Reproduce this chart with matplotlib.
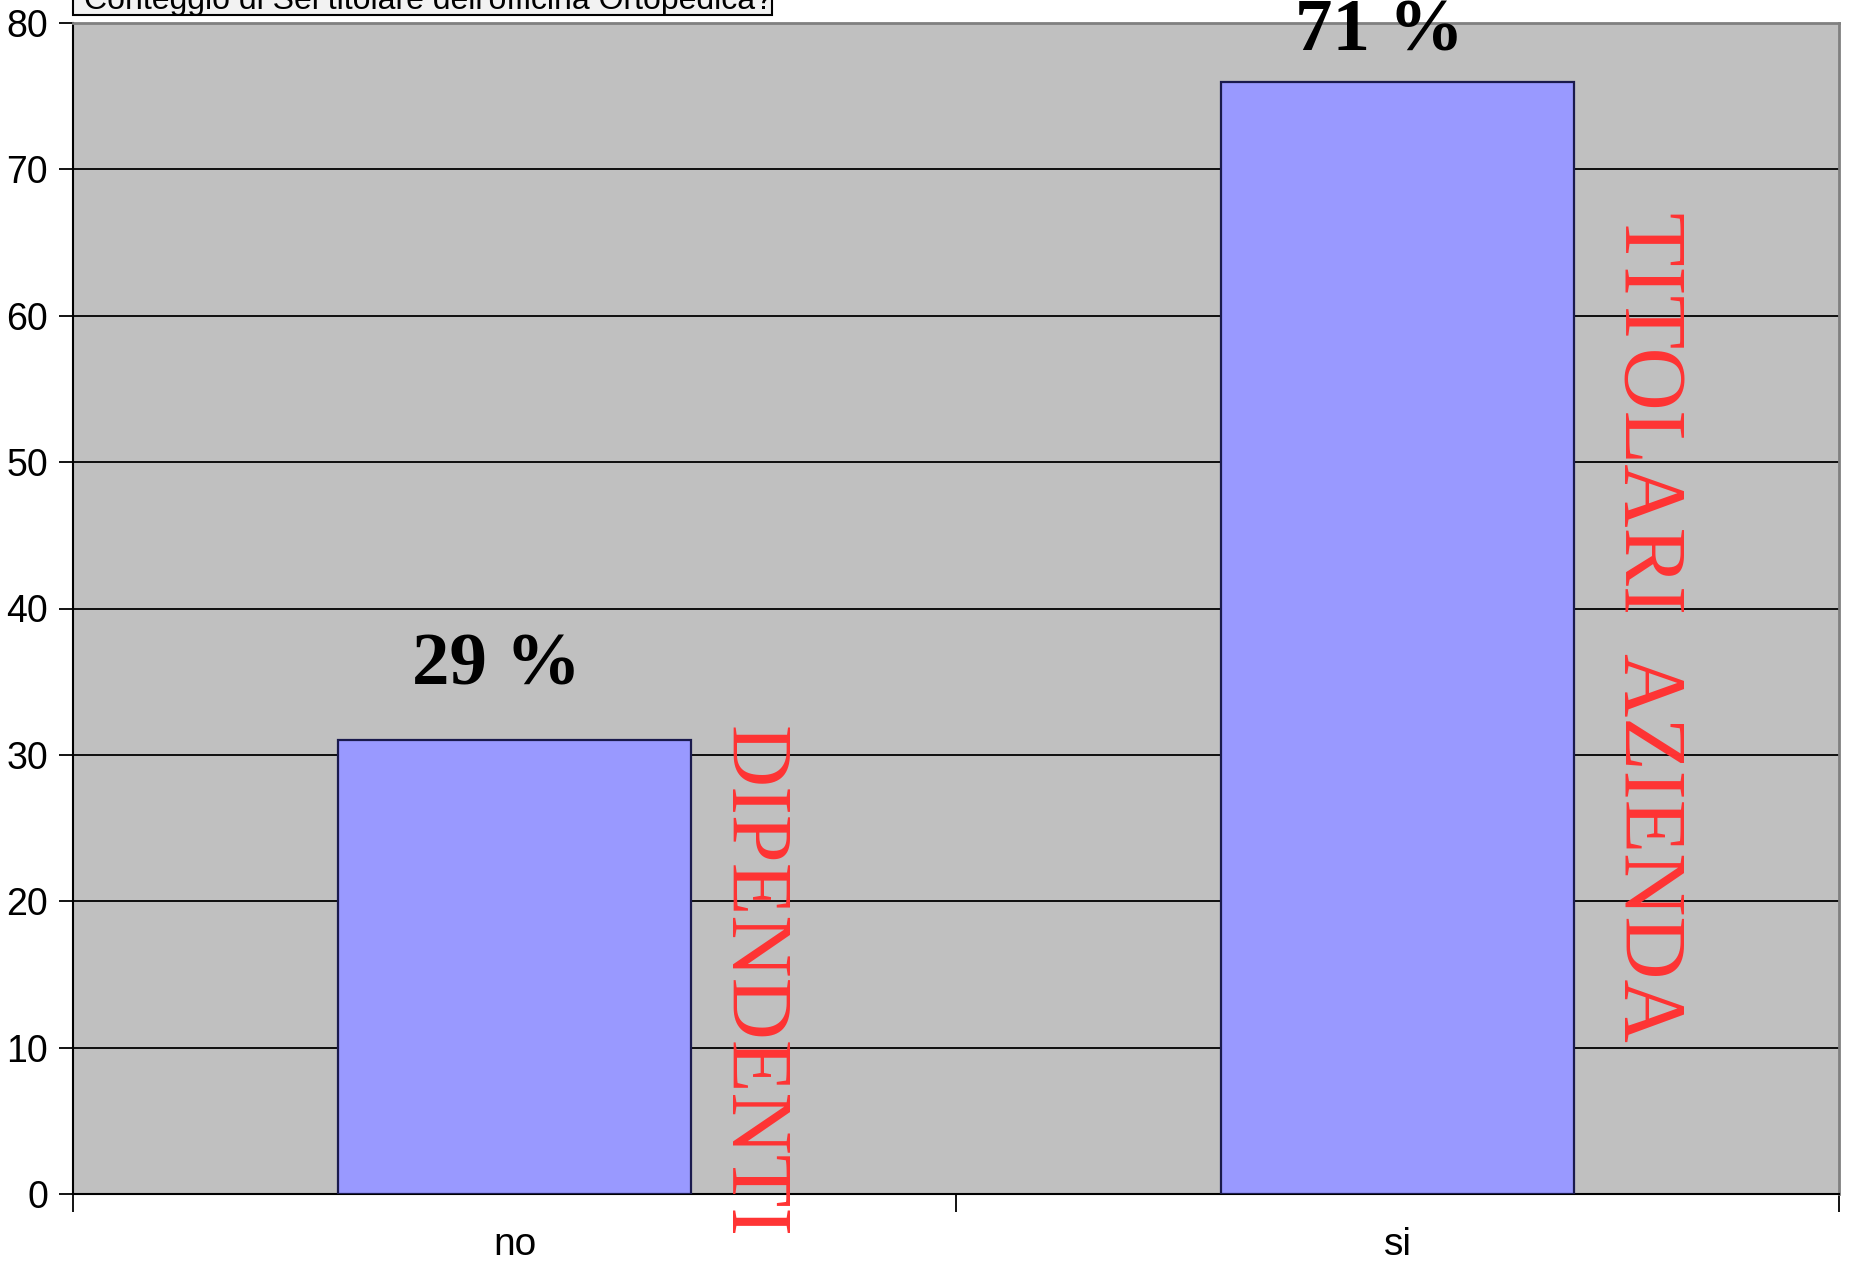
import matplotlib
matplotlib.use("Agg")
import matplotlib.pyplot as plt
from matplotlib.patches import Rectangle

categories = ["no", "si"]
counts = [31, 76]
pct_labels = ["29 %", "71 %"]
group_labels = ["DIPENDENTI", "TITOLARI  AZIENDA"]
yticks = [0, 10, 20, 30, 40, 50, 60, 70, 80]
legend_title = "Conteggio di Sei titolare dell'officina Ortopedica?"

sans = ["Liberation Sans", "DejaVu Sans"]

fig = plt.figure(figsize=(18.51, 12.69), dpi=100)
fig.patch.set_facecolor("white")
ax = fig.add_axes([73/1851, 1 - 1194/1269, (1839-73)/1851, (1194-23)/1269])
ax.set_facecolor("#C0C0C0")

x = list(range(len(categories)))
ax.bar(x, counts, width=0.4, color="#9999FF", edgecolor="#1a1a4d", linewidth=1.6, zorder=3)

ax.set_xlim(-0.5, 1.5)
ax.set_ylim(0, 80)
ax.set_yticks(yticks)
ax.set_yticklabels([str(t) for t in yticks], fontfamily=sans, fontsize=27)
ax.yaxis.grid(True, color="black", linewidth=1.3, zorder=1)
ax.set_axisbelow(True)

# category labels at centers, tick marks at boundaries
ax.set_xticks([-0.5, 0.5, 1.5])
ax.set_xticklabels(["", "", ""])
ax.set_xticks(x, minor=True)
ax.set_xticklabels(categories, minor=True, fontfamily=sans, fontsize=28)
ax.tick_params(axis="x", which="minor", length=0, pad=24)
ax.tick_params(axis="x", which="major", length=13, width=1.3, direction="out")
ax.tick_params(axis="y", length=10, width=1.3, pad=8)

for s in ["left", "bottom"]:
    ax.spines[s].set_color("black")
    ax.spines[s].set_linewidth(1.5)
for s in ["top", "right"]:
    ax.spines[s].set_color("#808080")
    ax.spines[s].set_linewidth(2)

# percentage labels
pct_offsets = [3.8, 2.1]
for xi, c, lab, off in zip(x, counts, pct_labels, pct_offsets):
    ax.text(xi - 0.02, c + off, lab, ha="center", va="baseline",
            fontfamily="Liberation Serif", fontweight="bold", fontsize=54,
            color="black", zorder=5, clip_on=False)

# red vertical group labels
ax.text(0.267, 32, group_labels[0], rotation=-90, ha="center", va="top",
        fontfamily="Liberation Serif", fontsize=62, color="#FF3333",
        zorder=5, clip_on=False)
ax.text(1.283, 67.1, group_labels[1], rotation=-90, ha="center", va="top",
        fontfamily="Liberation Serif", fontsize=63, color="#FF3333",
        zorder=5, clip_on=False)

# legend/title box cut at the top of the figure
W, H = 1851, 1269
fig.patches.append(Rectangle((73/W, 1 - 15/H), (772-73)/W, 40/H,
                             transform=fig.transFigure, facecolor="#F2F2F2",
                             edgecolor="black", linewidth=1.5, zorder=4))
fig.text(84/W, 1 - 9/H, legend_title, ha="left", va="baseline",
         fontfamily=sans, fontsize=23, color="black", zorder=6)

fig.savefig("out.png", dpi=100)
